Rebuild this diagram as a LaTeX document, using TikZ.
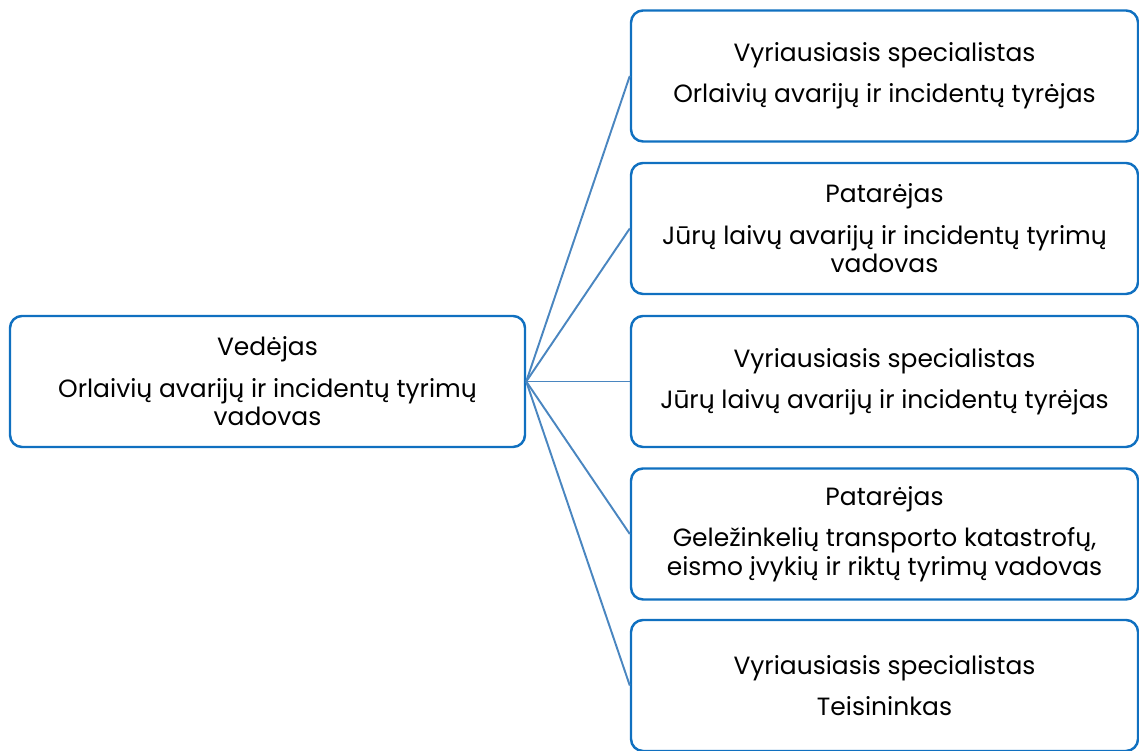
\documentclass[tikz,border=0pt]{standalone}
\usepackage{fontspec}
\setmainfont{Poppins}
\usepackage{tikz}
\usetikzlibrary{}

\definecolor{boxblue}{RGB}{16,112,192}
\definecolor{lineblue}{RGB}{74,134,192}

\begin{document}
\begin{tikzpicture}[scale=1,auto=center,
    post/.style={draw=boxblue,line width=1.4pt,rounded corners=0.24cm,
      minimum width=10.14cm,minimum height=2.62cm,inner sep=0pt,align=center,
      font=\fontsize{14.2}{16.2}\selectfont},
    link/.style={draw=lineblue,line width=1.1pt}]
  \useasboundingbox (0,0) rectangle (22.78,15.02);
  \node[post,minimum width=10.3cm] (lead) at (5.35,7.39)
    {Vedėjas\\[0.26cm]Orlaivių avarijų ir incidentų tyrimų\\vadovas};
  \node[post] (s1) at (17.69,13.5)
    {Vyriausiasis specialistas\\[0.26cm]Orlaivių avarijų ir incidentų tyrėjas};
  \node[post] (s2) at (17.69,10.45)
    {Patarėjas\\[0.26cm]Jūrų laivų avarijų ir incidentų tyrimų\\vadovas};
  \node[post] (s3) at (17.69,7.39)
    {Vyriausiasis specialistas\\[0.26cm]Jūrų laivų avarijų ir incidentų tyrėjas};
  \node[post] (s4) at (17.69,4.34)
    {Patarėjas\\[0.26cm]Geležinkelių transporto katastrofų,\\eismo įvykių ir riktų tyrimų vadovas};
  \node[post] (s5) at (17.69,1.31)
    {Vyriausiasis specialistas\\[0.26cm]Teisininkas};
  \draw[link] (lead.east) -- (s1.west);
  \draw[link] (lead.east) -- (s2.west);
  \draw[link] (lead.east) -- (s3.west);
  \draw[link] (lead.east) -- (s4.west);
  \draw[link] (lead.east) -- (s5.west);
\end{tikzpicture}
\end{document}
